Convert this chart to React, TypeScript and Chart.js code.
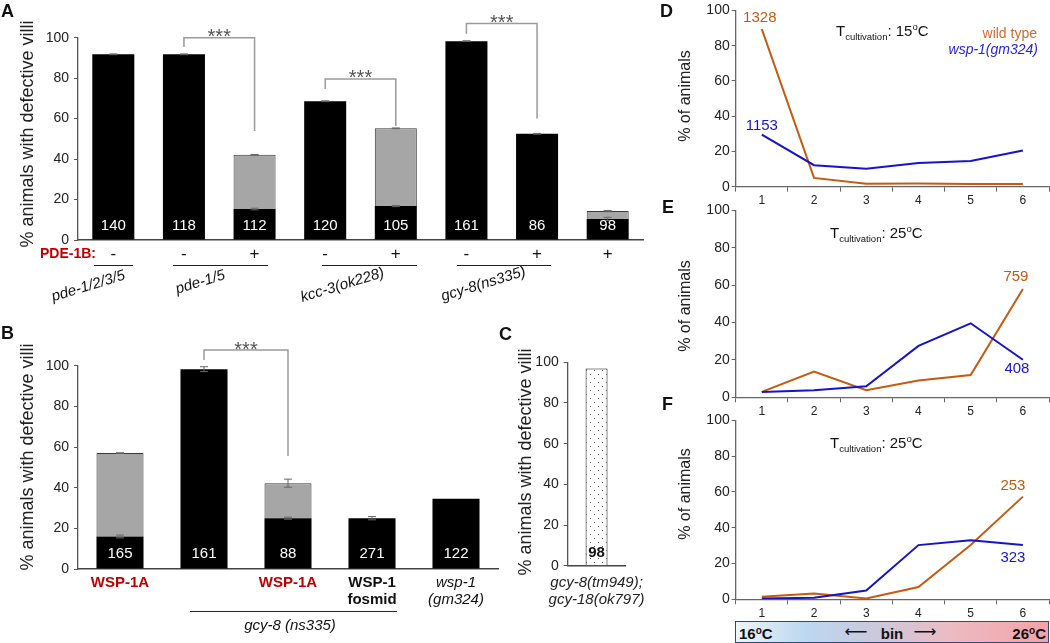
import React, { useEffect, useRef } from 'react';
import { Chart, registerables } from 'chart.js';

Chart.register(...registerables);

const FONT = "'Liberation Sans', Arial, Helvetica, sans-serif";
Chart.defaults.font.family = FONT;

// ---------------- Panel A ----------------
const aSigns = ['-', '-', '+', '-', '+', '-', '+', '+'];
const aCounts = ['140', '118', '112', '120', '105', '161', '86', '98'];
const aBlack = [91.8, 91.8, 15.3, 68.6, 16.8, 98.3, 52.5, 10.4];
const aGray = [0, 0, 26.8, 0, 38.4, 0, 0, 3.9];
const aErrBlack = [0.2, 0.2, 0.4, 0.2, 0.3, 0.2, 0.2, 0.8];
const aErrTop = [0, 0, 0.2, 0, 0.2, 0, 0, 0.3];
const aGenes = ['pde-1/2/3/5', 'pde-1/5', 'kcc-3(ok228)', 'gcy-8(ns335)'];
const aBrackets = [
  { from: 1, to: 2, top: 100, leftEnd: 95.4, rightEnd: 53.9 },
  { from: 3, to: 4, top: 79.6, leftEnd: 74.6, rightEnd: 56.4 },
  { from: 5, to: 6, top: 107, leftEnd: 102, rightEnd: 60 },
];

// ---------------- Panel B ----------------
const bLabels: (string | string[])[] = ['WSP-1A', '', 'WSP-1A', ['WSP-1', 'fosmid'], ['wsp-1', '(gm324)']];
const bCounts = ['165', '161', '88', '271', '122'];
const bBlack = [16, 98.3, 25, 25, 34.5];
const bGray = [41, 0, 17.2, 0, 0];
const bErrBlack = [0.7, 1.2, 0.5, 0.8, 0];
const bErrTop = [0.2, 0, 2, 0, 0];
const bBrackets = [{ from: 1, to: 2, top: 107.7, leftEnd: 102.8, rightEnd: 55.6 }];

// ---------------- Panel C ----------------
const cLabels = [['gcy-8(tm949);', 'gcy-18(ok797)']];
const cValues = [97];
const cCounts = ['98'];

// ---------------- Panels D, E, F ----------------
const bins = ['1', '2', '3', '4', '5', '6'];
const dWild = [89.4, 5, 1.7, 1.8, 1.5, 1.5];
const dWsp = [29.6, 12.2, 10.2, 13.5, 14.6, 20.5];
const eWild = [2.9, 13.8, 3.8, 9, 11.9, 58];
const eWsp = [2.9, 3.8, 5.9, 27.5, 39.6, 20.1];
const fWild = [1.4, 3.2, 0.5, 6.9, 30.3, 57.4];
const fWsp = [0.5, 0.9, 4.9, 30.3, 33, 30.3];

const RED = '#C00000';
const ORANGE = '#C55A11';
const BLUE = '#1414C8';
const AXIS = '#555';

function barExtras(
  counts: string[],
  countColor: string,
  countFont: string,
  countDy: number,
  errs: { vals: number[]; err: number[] }[],
  brackets: { from: number; to: number; top: number; leftEnd: number; rightEnd: number }[]
) {
  return {
    id: 'barExtras',
    afterDatasetsDraw(chart: any) {
      const ctx = chart.ctx;
      const ys = chart.scales.y;
      const meta = chart.getDatasetMeta(0);
      ctx.save();
      // error bars
      ctx.strokeStyle = '#666';
      ctx.lineWidth = 1;
      errs.forEach(({ vals, err }) => {
        vals.forEach((v, i) => {
          const e = err[i];
          if (!e) return;
          const x = meta.data[i].x;
          const y1 = ys.getPixelForValue(v + e);
          const y2 = ys.getPixelForValue(v - e);
          ctx.beginPath();
          ctx.moveTo(x, y1);
          ctx.lineTo(x, y2);
          ctx.moveTo(x - 4, y1);
          ctx.lineTo(x + 4, y1);
          ctx.moveTo(x - 4, y2);
          ctx.lineTo(x + 4, y2);
          ctx.stroke();
        });
      });
      // counts
      ctx.fillStyle = countColor;
      ctx.font = countFont;
      ctx.textAlign = 'center';
      ctx.textBaseline = 'middle';
      const y0 = ys.getPixelForValue(0);
      counts.forEach((c, i) => {
        ctx.fillText(c, meta.data[i].x, y0 + countDy);
      });
      // brackets
      brackets.forEach((b) => {
        const x1 = meta.data[b.from].x;
        const x2 = meta.data[b.to].x;
        const yt = ys.getPixelForValue(b.top);
        ctx.strokeStyle = '#9a9a9a';
        ctx.lineWidth = 1.5;
        ctx.beginPath();
        ctx.moveTo(x1, ys.getPixelForValue(b.leftEnd));
        ctx.lineTo(x1, yt);
        ctx.lineTo(x2, yt);
        ctx.lineTo(x2, ys.getPixelForValue(b.rightEnd));
        ctx.stroke();
        ctx.fillStyle = '#555';
        ctx.font = `20px ${FONT}`;
        ctx.textAlign = 'center';
        ctx.textBaseline = 'alphabetic';
        ctx.fillText('***', (x1 + x2) / 2, yt + 5.5);
      });
      ctx.restore();
    },
  };
}

function lineLabels(items: { ds: number; i: number; dx: number; dy: number; text: string; color: string }[]) {
  return {
    id: 'lineLabels',
    afterDatasetsDraw(chart: any) {
      const ctx = chart.ctx;
      ctx.save();
      ctx.font = `15px ${FONT}`;
      ctx.textAlign = 'center';
      ctx.textBaseline = 'middle';
      items.forEach((it) => {
        const p = chart.getDatasetMeta(it.ds).data[it.i];
        ctx.fillStyle = it.color;
        ctx.fillText(it.text, p.x + it.dx, p.y + it.dy);
      });
      ctx.restore();
    },
  };
}

function yAxis(width: number, tickSize: number, tickPad: number, stacked = false) {
  return {
    stacked,
    min: 0,
    max: 100,
    ticks: { stepSize: 20, color: '#222', font: { size: tickSize }, padding: tickPad },
    grid: { display: true, drawOnChartArea: false, drawTicks: true, tickLength: 4, color: AXIS },
    border: { display: true, color: AXIS, width: 1.3 },
    afterFit: (s: any) => {
      s.width = width;
    },
  };
}

function configA() {
  return {
    type: 'bar',
    data: {
      labels: aSigns,
      datasets: [
        { data: aBlack, backgroundColor: '#000', borderWidth: 0, barPercentage: 0.595, categoryPercentage: 1 },
        {
          data: aGray,
          backgroundColor: '#A6A6A6',
          borderColor: '#3a3a3a',
          borderWidth: 1,
          barPercentage: 0.595,
          categoryPercentage: 1,
        },
      ],
    },
    options: {
      animation: false,
      responsive: false,
      layout: { padding: { top: 37.7, right: 7, left: 0, bottom: 0 } },
      plugins: { legend: { display: false }, tooltip: { enabled: false } },
      scales: {
        x: {
          stacked: true,
          grid: { display: false, drawTicks: false },
          border: { display: true, color: '#444', width: 1.5 },
          ticks: { color: '#111', font: { size: 17 }, padding: 4, maxRotation: 0, autoSkip: false },
          afterFit: (s: any) => {
            s.height = 35;
          },
        },
        y: yAxis(78, 14, 5, true),
      },
    },
    plugins: [
      barExtras(
        aCounts,
        '#fff',
        `15px ${FONT}`,
        -14,
        [
          { vals: aBlack, err: aErrBlack },
          { vals: aBlack.map((v, i) => v + aGray[i]), err: aErrTop },
        ],
        aBrackets
      ),
    ],
  };
}

function configB() {
  return {
    type: 'bar',
    data: {
      labels: bLabels,
      datasets: [
        { data: bBlack, backgroundColor: '#000', borderWidth: 0, barPercentage: 0.56, categoryPercentage: 1 },
        {
          data: bGray,
          backgroundColor: '#A6A6A6',
          borderColor: '#3a3a3a',
          borderWidth: 1,
          barPercentage: 0.56,
          categoryPercentage: 1,
        },
      ],
    },
    options: {
      animation: false,
      responsive: false,
      layout: { padding: { top: 65.7, right: 7, left: 0, bottom: 0 } },
      plugins: { legend: { display: false }, tooltip: { enabled: false } },
      scales: {
        x: {
          stacked: true,
          grid: { display: false, drawTicks: false },
          border: { display: true, color: '#444', width: 1.5 },
          ticks: {
            padding: 5,
            maxRotation: 0,
            autoSkip: false,
            color: (c: any) => (c.index === 0 || c.index === 2 ? RED : '#111'),
            font: (c: any) =>
              c.index === 4
                ? { size: 15, style: 'italic', weight: 'normal', lineHeight: 1.17 }
                : { size: 15, weight: 'bold', lineHeight: 1.17 },
          },
          afterFit: (s: any) => {
            s.height = 71;
          },
        },
        y: yAxis(78, 14, 5, true),
      },
    },
    plugins: [
      barExtras(
        bCounts,
        '#fff',
        `15px ${FONT}`,
        -15,
        [
          { vals: bBlack, err: bErrBlack },
          { vals: bBlack.map((v, i) => v + bGray[i]), err: bErrTop },
        ],
        bBrackets
      ),
    ],
  };
}

function dotPattern() {
  const c = document.createElement('canvas');
  c.width = 8;
  c.height = 8;
  const g = c.getContext('2d')!;
  g.fillStyle = '#fff';
  g.fillRect(0, 0, 8, 8);
  g.fillStyle = '#555';
  g.fillRect(2, 2, 1, 1);
  g.fillRect(6, 6, 1, 1);
  return g.createPattern(c, 'repeat');
}

function configC() {
  return {
    type: 'bar',
    data: {
      labels: cLabels,
      datasets: [
        {
          data: cValues,
          backgroundColor: dotPattern(),
          borderColor: '#111',
          borderWidth: 1,
          borderSkipped: 'bottom',
          barPercentage: 0.38,
          categoryPercentage: 1,
        },
      ],
    },
    options: {
      animation: false,
      responsive: false,
      layout: { padding: { top: 62.3, right: 5, left: 0, bottom: 0 } },
      plugins: { legend: { display: false }, tooltip: { enabled: false } },
      scales: {
        x: {
          grid: { display: false, drawTicks: false },
          border: { display: true, color: '#444', width: 1.5 },
          ticks: {
            padding: 8,
            maxRotation: 0,
            autoSkip: false,
            color: '#222',
            font: { size: 15, style: 'italic', lineHeight: 1.17 },
          },
          afterFit: (s: any) => {
            s.height = 54.3;
          },
        },
        y: yAxis(67.7, 14, 5),
      },
    },
    plugins: [barExtras(cCounts, '#111', `bold 15px ${FONT}`, -13, [], [])],
  };
}

function configLine(wild: number[], wsp: number[], top: number, xh: number, labels: any[]) {
  return {
    type: 'line',
    data: {
      labels: bins,
      datasets: [
        { data: wsp, borderColor: BLUE, borderWidth: 2, pointRadius: 0, tension: 0, fill: false },
        { data: wild, borderColor: ORANGE, borderWidth: 2, pointRadius: 0, tension: 0, fill: false },
      ],
    },
    options: {
      animation: false,
      responsive: false,
      layout: { padding: { top, right: 1, left: 0, bottom: 0 } },
      plugins: { legend: { display: false }, tooltip: { enabled: false } },
      scales: {
        x: {
          offset: true,
          grid: {
            display: true,
            offset: true,
            drawOnChartArea: false,
            drawTicks: true,
            tickLength: 5,
            color: '#666',
          },
          border: { display: true, color: '#666', width: 1.3 },
          ticks: { color: '#222', font: { size: 12 }, padding: 2, maxRotation: 0 },
          afterFit: (s: any) => {
            s.height = xh;
          },
        },
        y: { ...yAxis(63.7, 14, 2), grid: { display: true, drawOnChartArea: false, drawTicks: true, tickLength: 4, color: '#666' }, border: { display: true, color: '#666', width: 1.3 } },
      },
    },
    plugins: [lineLabels(labels)],
  };
}

function ChartCanvas({ left, top, width, height, make }: any) {
  const ref = useRef<HTMLCanvasElement>(null);
  useEffect(() => {
    const chart = new Chart(ref.current as HTMLCanvasElement, make());
    return () => chart.destroy();
  }, []);
  return (
    <canvas
      ref={ref}
      width={width}
      height={height}
      style={{ position: 'absolute', left, top, width, height }}
    />
  );
}

function T({ x, y, align = 'center', rotate = 0, style, children }: any) {
  const tx = align === 'center' ? '-50%' : align === 'left' ? '0' : '-100%';
  return (
    <div
      style={{
        position: 'absolute',
        left: x,
        top: y,
        transform: `translate(${tx},-50%)${rotate ? ` rotate(${rotate}deg)` : ''}`,
        transformOrigin: align === 'center' ? 'center' : undefined,
        whiteSpace: 'nowrap',
        lineHeight: 1,
        ...style,
      }}
    >
      {children}
    </div>
  );
}

function VTitle({ x, y, size, text }: any) {
  return (
    <div
      style={{
        position: 'absolute',
        left: x,
        top: y,
        transform: 'translate(-50%,-50%) rotate(-90deg)',
        whiteSpace: 'nowrap',
        lineHeight: 1,
        fontSize: size,
        color: '#222',
      }}
    >
      {text}
    </div>
  );
}

function HLine({ x1, x2, y }: any) {
  return <div style={{ position: 'absolute', left: x1, top: y, width: x2 - x1, height: 1.4, background: '#222' }} />;
}

function TCult({ x, y, temp }: any) {
  return (
    <T x={x} y={y} align="left" style={{ fontSize: 15, color: '#111' }}>
      T<span style={{ fontSize: 9.5, position: 'relative', top: 4 }}>cultivation</span>: {temp}
      <span style={{ fontSize: 9.5, position: 'relative', top: -6 }}>o</span>C
    </T>
  );
}

const letterStyle = { fontSize: 18, fontWeight: 'bold', color: '#111' };

export default function App() {
  const geneCenters = [
    [88, 285],
    [200, 281],
    [342, 284],
    [483, 283],
  ];
  return (
    <div
      style={{
        position: 'fixed',
        left: 0,
        top: 0,
        width: 1050,
        height: 643,
        overflow: 'hidden',
        background: '#fff',
        fontFamily: FONT,
      }}
    >
      <ChartCanvas left={0} top={0} width={650} height={275} make={configA} />
      <ChartCanvas left={0} top={300} width={505} height={340} make={configB} />
      <ChartCanvas left={500} top={300} width={155} height={320} make={configC} />
      <ChartCanvas
        left={672}
        top={0}
        width={378}
        height={212}
        make={() =>
          configLine(dWild, dWsp, 6.7, 25.3, [
            { ds: 1, i: 0, dx: -2, dy: -11, text: '1328', color: ORANGE },
            { ds: 0, i: 0, dx: 0, dy: -9, text: '1153', color: BLUE },
          ])
        }
      />
      <ChartCanvas
        left={672}
        top={200}
        width={378}
        height={225}
        make={() =>
          configLine(eWild, eWsp, 3.6, 27.7, [
            { ds: 1, i: 5, dx: -7, dy: -12, text: '759', color: ORANGE },
            { ds: 0, i: 5, dx: -6, dy: 9, text: '408', color: BLUE },
          ])
        }
      />
      <ChartCanvas
        left={672}
        top={410}
        width={378}
        height={210}
        make={() =>
          configLine(fWild, fWsp, 4.8, 20.7, [
            { ds: 1, i: 5, dx: -10, dy: -11, text: '253', color: ORANGE },
            { ds: 0, i: 5, dx: -10, dy: 12.5, text: '323', color: BLUE },
          ])
        }
      />

      {/* panel letters */}
      <T x={1} y={11} align="left" style={letterStyle}>A</T>
      <T x={1} y={333} align="left" style={letterStyle}>B</T>
      <T x={499} y={334} align="left" style={letterStyle}>C</T>
      <T x={660} y={11} align="left" style={letterStyle}>D</T>
      <T x={662} y={207} align="left" style={letterStyle}>E</T>
      <T x={662} y={404} align="left" style={letterStyle}>F</T>

      {/* axis titles */}
      <VTitle x={27} y={134} size={18} text="% animals with defective villi" />
      <VTitle x={27} y={457} size={18} text="% animals with defective villi" />
      <VTitle x={525} y={462} size={18} text="% animals with defective villi" />
      <VTitle x={685} y={96} size={16} text="% of animals" />
      <VTitle x={685} y={306} size={16} text="% of animals" />
      <VTitle x={685} y={494} size={16} text="% of animals" />

      {/* panel A annotations */}
      <T x={40} y={253} align="left" style={{ fontSize: 14, fontWeight: 'bold', color: RED }}>PDE-1B:</T>
      <HLine x1={94} x2={133} y={265} />
      <HLine x1={173} x2={268} y={265} />
      <HLine x1={322} x2={417} y={265} />
      <HLine x1={457} x2={551} y={265} />
      {aGenes.map((g, i) => (
        <T key={g} x={geneCenters[i][0]} y={geneCenters[i][1]} rotate={-17} style={{ fontSize: 15, fontStyle: 'italic', color: '#111' }}>
          {g}
        </T>
      ))}

      {/* panel B annotations */}
      <HLine x1={190} x2={397} y={611} />
      <T x={290} y={624} style={{ fontSize: 15, fontStyle: 'italic', color: '#111' }}>gcy-8 (ns335)</T>

      {/* panels D-F annotations */}
      <TCult x={836} y={30} temp="15" />
      <TCult x={830} y={232} temp="25" />
      <TCult x={830} y={442} temp="25" />
      <T x={1037} y={33} align="right" style={{ fontSize: 14, color: '#D06A30' }}>wild type</T>
      <T x={1038} y={49} align="right" style={{ fontSize: 14, fontStyle: 'italic', color: '#2424D8' }}>wsp-1(gm324)</T>

      {/* temperature gradient bar */}
      <div
        style={{
          position: 'absolute',
          left: 735,
          top: 621,
          width: 314,
          height: 22,
          boxSizing: 'border-box',
          border: '1.5px solid #2E4A7D',
          background: 'linear-gradient(90deg, #eef5fb 0%, #bcd8ef 22%, #cbc8dc 45%, #ecbcc4 68%, #f4a2a8 100%)',
        }}
      />
      <T x={739} y={633} align="left" style={{ fontSize: 15, fontWeight: 'bold', color: '#111' }}>
        16<span style={{ fontSize: 10, position: 'relative', top: -5 }}>o</span>C
      </T>
      <T x={1046} y={633} align="right" style={{ fontSize: 15, fontWeight: 'bold', color: '#111' }}>
        26<span style={{ fontSize: 10, position: 'relative', top: -5 }}>o</span>C
      </T>
      <T x={856} y={632} style={{ fontSize: 16, fontFamily: 'DejaVu Sans', color: '#111' }}>⟵</T>
      <T x={892} y={633} style={{ fontSize: 15, fontWeight: 'bold', color: '#111' }}>bin</T>
      <T x={925} y={632} style={{ fontSize: 16, fontFamily: 'DejaVu Sans', color: '#111' }}>⟶</T>
    </div>
  );
}
